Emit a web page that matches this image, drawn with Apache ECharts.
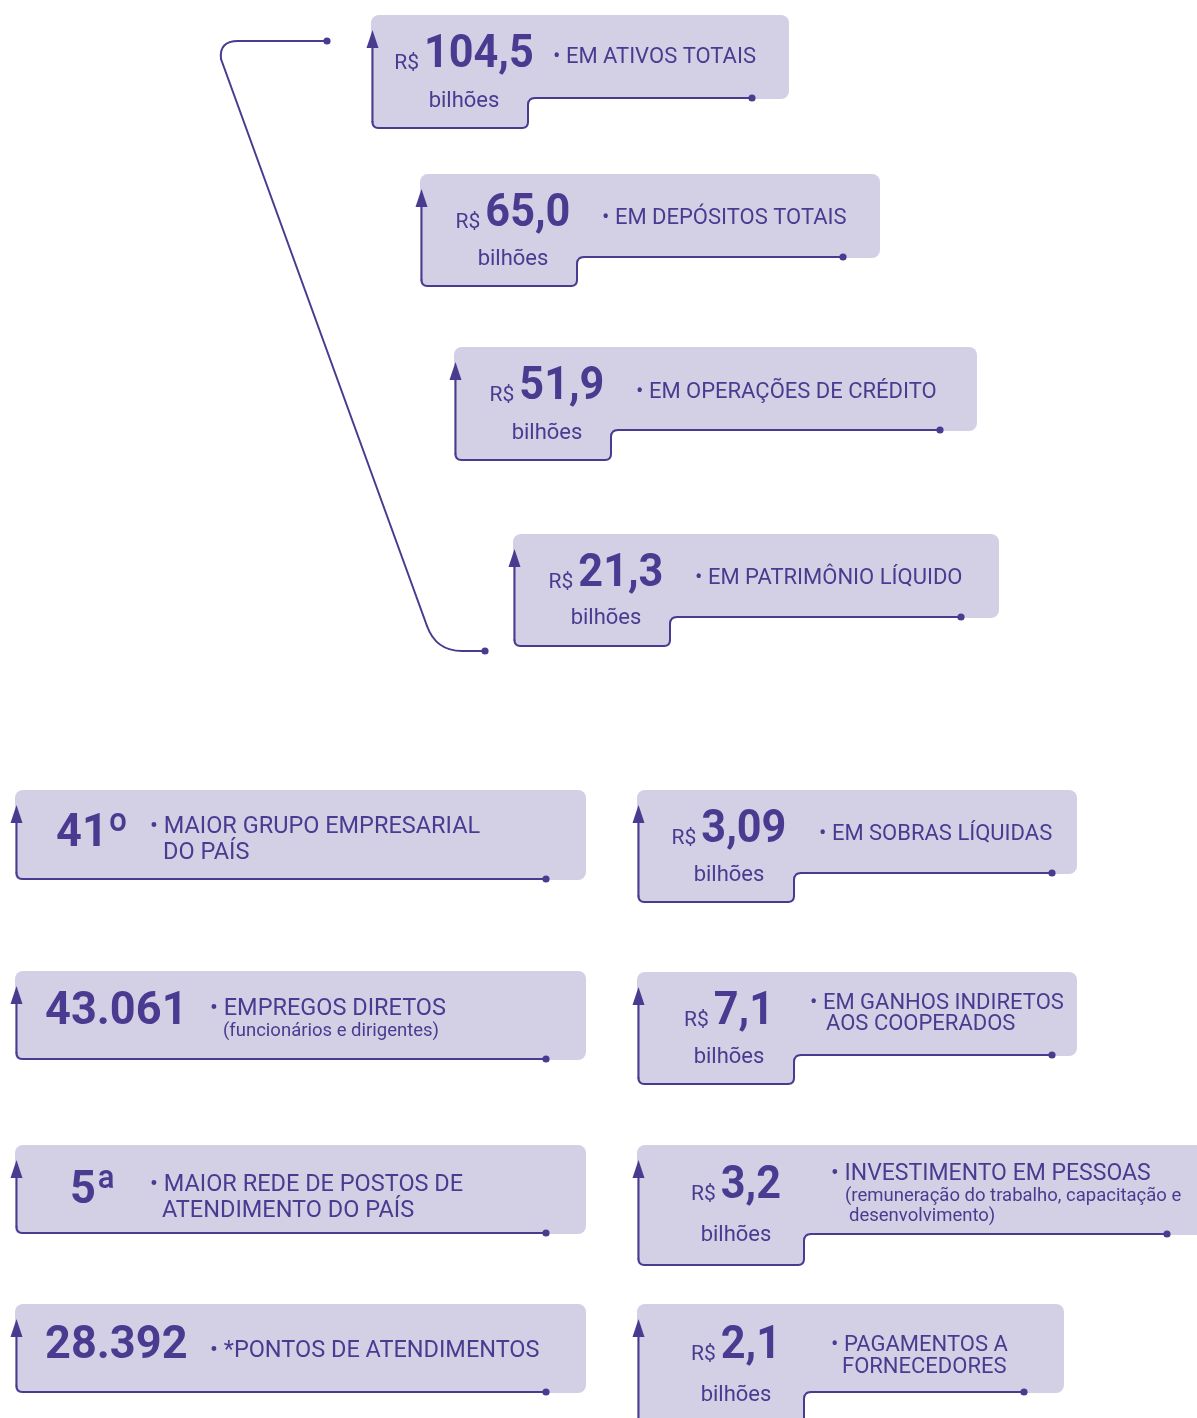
<!DOCTYPE html>
<html><head><meta charset="utf-8">
<script src="https://cdn.jsdelivr.net/npm/echarts@6/dist/echarts.min.js"></script>
<style>html,body{margin:0;padding:0;background:#fff}#c{width:1197px;height:1418px}</style>
</head><body><div id="c"></div>
<script>
// ---- data ----
const currencyPrefix = 'R$';
const unitLabel = 'bilhões';
const topValues = ['104,5', '65,0', '51,9', '21,3'];
const topLabels = [['EM ATIVOS TOTAIS'], ['EM DEPÓSITOS TOTAIS'], ['EM OPERAÇÕES DE CRÉDITO'], ['EM PATRIMÔNIO LÍQUIDO']];
const leftValues = ['41º', '43.061', '5ª', '28.392'];
const leftLabels = [['MAIOR GRUPO EMPRESARIAL', 'DO PAÍS'], ['EMPREGOS DIRETOS'], ['MAIOR REDE DE POSTOS DE', 'ATENDIMENTO DO PAÍS'], ['*PONTOS DE ATENDIMENTOS']];
const leftNotes = [[], ['(funcionários e dirigentes)'], [], []];
const rightValues = ['3,09', '7,1', '3,2', '2,1'];
const rightLabels = [['EM SOBRAS LÍQUIDAS'], ['EM GANHOS INDIRETOS', 'AOS COOPERADOS'], ['INVESTIMENTO EM PESSOAS'], ['PAGAMENTOS A', 'FORNECEDORES']];
const rightNotes = [[], [], ['(remuneração do trabalho, capacitação e', 'desenvolvimento)'], []];

// ---- layout / style ----
const FONT = 'Roboto';
const INK = '#4a3b90';
const FILL = '#d3d0e5';
const topLayout = [
  {x0:371,y0:15,x1:789,yMid:98,yBot:128,xTab:528,dot:752,cx:93,nb:56,bil:84,ls:22,lines:[[182,40]],notes:[]},
  {x0:420,y0:174,x1:880,yMid:257,yBot:286,xTab:577,dot:843,cx:93,nb:56,bil:83,ls:22,lines:[[182,42]],notes:[]},
  {x0:454,y0:347,x1:977,yMid:430,yBot:460,xTab:611,dot:940,cx:93,nb:56,bil:84,ls:22,lines:[[182,43]],notes:[]},
  {x0:513,y0:534,x1:999,yMid:617,yBot:646,xTab:670,dot:961,cx:93,nb:56,bil:82,ls:22,lines:[[182,42]],notes:[]}
];
const rightLayout = [
  {x0:637,y0:790,x1:1077,yMid:873,yBot:902,xTab:794,dot:1052,cx:92,nb:56,bil:83,ls:22,lines:[[182,42]],notes:[]},
  {x0:637,y0:972,x1:1077,yMid:1055,yBot:1084,xTab:794,dot:1052,cx:92,nb:56,bil:83,ls:22,lines:[[173,29],[189,50]],notes:[]},
  {x0:637,y0:1145,x1:1220,yMid:1234,yBot:1265,xTab:804,dot:1167,cx:99,nb:57,bil:88,ls:23,lines:[[194,27]],notes:[[208,49],[212,69]]},
  {x0:637,y0:1304,x1:1064,yMid:1392,yBot:1450,xTab:804,dot:1024,cx:99,nb:58,bil:89,ls:22,lines:[[194,39],[205,61]],notes:[]}
];
const leftLayout = [
  {x0:15,y0:790,x1:586,yBot:879,dot:546,vx:41,vb:60,ls:23.5,lines:[[135,35],[148,61]],notes:[]},
  {x0:15,y0:971,x1:586,yBot:1059,dot:546,vx:30,vb:57,ls:23.5,lines:[[195,36]],notes:[[208,58]]},
  {x0:15,y0:1145,x1:586,yBot:1233,dot:546,vx:55,vb:62,ls:23.5,lines:[[135,38],[147,64]],notes:[]},
  {x0:15,y0:1304,x1:586,yBot:1392,dot:546,vx:30,vb:58,ls:23.5,lines:[[195,45]],notes:[]}
];
const NUM_SIZE = 47, NUM_SCALE = 0.92, LEFT_NUM_SCALE = 0.96, CUR_SIZE = 21, NOTE_SIZE = 18.5, BIL_SIZE = 22;
const TEXT_DY = 2.5;

const ctx = document.createElement('canvas').getContext('2d');
function tw(t, font) { ctx.font = font; return ctx.measureText(t).width; }

function txt(text, x, y, size, weight, align, scaleX) {
  return {type:'text', silent:true, x:x, y:y, scaleX:scaleX||1, style:{text:text, x:0, y:0, fill:INK,
    fontSize:size, fontFamily:FONT, fontWeight:weight||'normal',
    textAlign:align||'left', align:align||'left', textVerticalAlign:'middle', verticalAlign:'middle'}};
}
function mid(base, size){ return base - 0.34*size; }

const els = [];
function arrow(x, y0) {
  els.push({type:'polygon', silent:true, shape:{points:[[x-6,y0+33],[x,y0+15],[x+6,y0+33]]}, style:{fill:INK}});
}
function dot(x, y){ els.push({type:'circle', silent:true, shape:{cx:x, cy:y, r:3.6}, style:{fill:INK}}); }
// stroke a path made of M / L / Q commands using line and bezierCurve elements
function stroke(d){
  const toks = d.match(/[MLQ]|-?\d+(\.\d+)?/g);
  let i = 0, cx = 0, cy = 0, cmd = null;
  const st = {fill:null, stroke:INK, lineWidth:2, lineCap:'round'};
  while (i < toks.length) {
    if (/[MLQ]/.test(toks[i])) { cmd = toks[i]; i++; }
    if (cmd === 'M') { cx = +toks[i]; cy = +toks[i+1]; i += 2; }
    else if (cmd === 'L') {
      const x = +toks[i], y = +toks[i+1]; i += 2;
      els.push({type:'line', silent:true, shape:{x1:cx, y1:cy, x2:x, y2:y}, style:Object.assign({}, st)});
      cx = x; cy = y;
    } else if (cmd === 'Q') {
      const qx = +toks[i], qy = +toks[i+1], x = +toks[i+2], y = +toks[i+3]; i += 4;
      els.push({type:'bezierCurve', silent:true, shape:{x1:cx, y1:cy, x2:x, y2:y, cpx1:qx, cpy1:qy}, style:Object.assign({}, st)});
      cx = x; cy = y;
    } else { i++; }
  }
}

function addLabels(L, labels, notes) {
  labels.forEach((s, i) => {
    const p = L.lines[i];
    els.push(txt((i === 0 ? '• ' : '') + s, L.x0 + p[0], L.y0 + p[1] + TEXT_DY, L.ls));
  });
  notes.forEach((s, i) => {
    const p = L.notes[i];
    els.push(txt(s, L.x0 + p[0], L.y0 + p[1] + TEXT_DY, NOTE_SIZE));
  });
}

function tabBox(L, value, labels, notes) {
  els.push({type:'rect', silent:true, shape:{x:L.x0, y:L.y0, width:L.x1-L.x0, height:L.yMid-L.y0+1, r:8}, style:{fill:FILL}});
  els.push({type:'rect', silent:true, shape:{x:L.x0, y:L.yMid-8, width:L.xTab-L.x0, height:L.yBot-L.yMid+8, r:[0,0,6,6]}, style:{fill:FILL}});
  const x = L.x0+1.5;
  stroke(`M${x},${L.y0+30} L${x},${L.yBot-6} Q${x},${L.yBot} ${x+6},${L.yBot} L${L.xTab-6},${L.yBot} Q${L.xTab},${L.yBot} ${L.xTab},${L.yBot-6} L${L.xTab},${L.yMid+7} Q${L.xTab},${L.yMid} ${L.xTab+7},${L.yMid} L${L.dot},${L.yMid}`);
  arrow(x, L.y0);
  dot(L.dot, L.yMid);
  const wCur = tw(currencyPrefix, CUR_SIZE+'px '+FONT);
  const wNum = tw(value, 'bold '+NUM_SIZE+'px '+FONT) * NUM_SCALE;
  const gap = 5;
  const total = wCur + gap + wNum;
  const cx = L.x0 + L.cx;
  const start = cx - total/2;
  const base = L.y0 + L.nb;
  els.push(txt(currencyPrefix, start, mid(base, CUR_SIZE), CUR_SIZE));
  els.push(txt(value, start + wCur + gap, mid(base, NUM_SIZE), NUM_SIZE, 'bold', 'left', NUM_SCALE));
  els.push(txt(unitLabel, cx, L.y0 + L.bil + 2, BIL_SIZE, 'normal', 'center'));
  addLabels(L, labels, notes);
}

function flatBox(L, value, labels, notes) {
  els.push({type:'rect', silent:true, shape:{x:L.x0, y:L.y0, width:L.x1-L.x0, height:L.yBot-L.y0+1, r:[8,8,8,6]}, style:{fill:FILL}});
  const x = L.x0+1.5;
  stroke(`M${x},${L.y0+30} L${x},${L.yBot-6} Q${x},${L.yBot} ${x+6},${L.yBot} L${L.dot},${L.yBot}`);
  arrow(x, L.y0);
  dot(L.dot, L.yBot);
  els.push(txt(value, L.x0 + L.vx, mid(L.y0 + L.vb, NUM_SIZE), NUM_SIZE, 'bold', 'left', LEFT_NUM_SCALE));
  addLabels(L, labels, notes);
}

// bracket connector
stroke('M327,41 L238,41 Q219,41 221,59 L427,626 Q436,651 462,651 L485,651');
dot(327, 41);
dot(485, 651);

topValues.forEach((v, i) => tabBox(topLayout[i], v, topLabels[i], []));
rightValues.forEach((v, i) => tabBox(rightLayout[i], v, rightLabels[i], rightNotes[i]));
leftValues.forEach((v, i) => flatBox(leftLayout[i], v, leftLabels[i], leftNotes[i]));

const chart = echarts.init(document.getElementById('c'), null, {renderer:'canvas'});
chart.setOption({backgroundColor:'#ffffff', animation:false, graphic:{elements:els}});
</script>
</body></html>
